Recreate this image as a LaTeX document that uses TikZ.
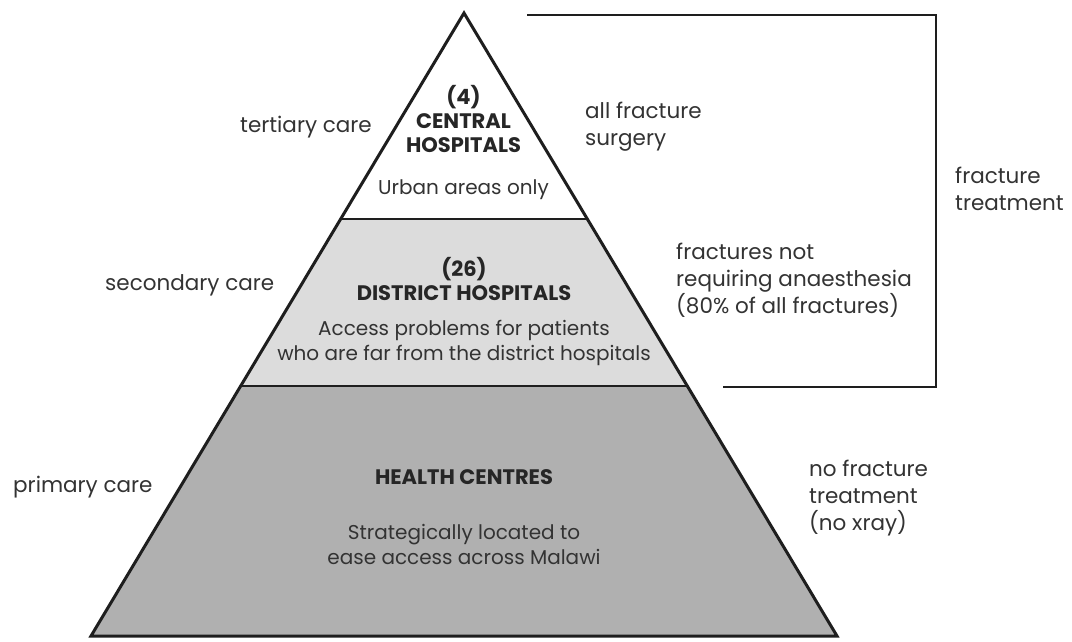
\documentclass[tikz,border=0pt]{standalone}
\usepackage{fontspec}
\setmainfont{Poppins}
\definecolor{txt}{HTML}{333333}
\definecolor{headtxt}{HTML}{262626}
\definecolor{edge}{HTML}{1E1E1E}
\definecolor{midgray}{HTML}{DCDCDC}
\definecolor{lowgray}{HTML}{B0B0B0}
\begin{document}
\begin{tikzpicture}[x=1pt,y=-1pt,
  side/.style={font=\fontsize{21.5}{27}\selectfont, text=txt, align=left, anchor=west, inner sep=0pt},
  body/.style={font=\fontsize{20}{25}\selectfont, text=txt, align=center, inner sep=0pt},
  head/.style={font=\fontsize{21}{24}\selectfont\bfseries, text=headtxt, align=center, inner sep=0pt},
  tier/.style={draw=edge, line width=2pt},
  bracket/.style={draw=edge, line width=2pt}]
\useasboundingbox (0,0) rectangle (1072,641);
% pyramid corners
\coordinate (apex) at (464,13);
\coordinate (l1) at (341,219); \coordinate (r1) at (587,219);
\coordinate (l2) at (241,386); \coordinate (r2) at (687,386);
\coordinate (bl) at (91,636); \coordinate (br) at (837,636);
% tiers
\fill[white] (apex) -- (r1) -- (l1) -- cycle;
\fill[midgray] (l1) -- (r1) -- (r2) -- (l2) -- cycle;
\fill[lowgray] (l2) -- (r2) -- (br) -- (bl) -- cycle;
\draw[tier] (l1) -- (r1);
\draw[tier] (l2) -- (r2);
\draw[draw=edge, line width=3pt, line join=miter] (apex) -- (br) -- (bl) -- cycle;
% bracket
\coordinate (bt1) at (527,15); \coordinate (bt2) at (936,15);
\coordinate (bb1) at (723,387); \coordinate (bb2) at (936,387);
\draw[bracket] (bt1) -- (bt2) -- (bb2) -- (bb1);
% central texts
\node[head] (central) at (463.5,119) {(4)\\CENTRAL\\HOSPITALS};
\node[body] (urban) at (463.5,190) {Urban areas only};
\node[head] (district) at (464,278.5) {(26)\\DISTRICT HOSPITALS};
\node[body] (access) at (464,342.5) {Access problems for patients\\who are far from the district hospitals};
\node[head] (health) at (464,477) {HEALTH CENTRES};
\node[body] (strat) at (464,544.5) {Strategically located to\\ease access across Malawi};
% side labels
\node[side] (tertiary) at (240,127) {tertiary care};
\node[side] (secondary) at (105,285) {secondary care};
\node[side] (primary) at (13,487) {primary care};
\node[side] (allfrac) at (585,126.5) {all fracture\\surgery};
\node[side] (notreq) at (676,280) {fractures not\\requiring anaesthesia\\(80\% of all fractures)};
\node[side] (nofrac) at (809,498) {no fracture\\treatment\\(no xray)};
\node[side] (fractreat) at (955,188.5) {fracture\\treatment};
\end{tikzpicture}
\end{document}
